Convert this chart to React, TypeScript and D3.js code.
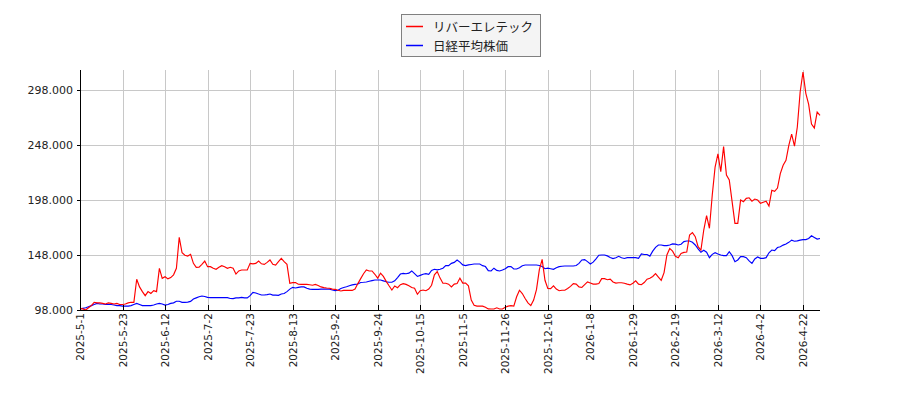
import React from 'react';
import * as d3 from 'd3';

const stockName = 'リバーエレテック';
const indexName = '日経平均株価';

const riverValues: number[] = [
  99.5, 99, 98, 100, 102, 105, 104.5, 104.5, 104, 103.5, 104.5, 104, 103.5, 104, 103, 103, 103.5, 104.5, 105, 105,
  126, 119, 114.7, 111, 114.7, 113, 115.6, 114.7, 135.9, 126.8, 128.3, 126.3, 127.5, 130, 135.9,
  164, 150, 147.8, 147, 148.6, 140.4, 136.8, 137, 139.5, 142.5, 137.4, 137.4, 135.9, 135, 136.8, 138.3, 137.4, 135.9,
  136.8, 135.9, 130.7, 133.5, 134.4, 134.4, 134.4, 140.4, 140, 140.4, 142.5, 140, 139.5, 141.3, 143.5, 139.5, 138.9,
  141.9, 145, 141.9, 139.5, 122.3, 122.9, 122.9, 121.4,
  121.3, 121.3, 121.3, 121, 120.5, 121.3, 120.3, 119, 118.3, 118, 117.8, 117, 116.8, 116, 115.3, 115.8, 115.8, 115.8,
  115.8, 117, 122, 126.5, 131, 134.4, 133.5, 133.5, 130.5, 127, 131.5, 128.5, 124, 120, 116.2, 119.8, 118.3, 121, 122,
  121.3, 120, 118.5, 117.8, 112.3, 115.5,
  116.2, 115.5, 117, 120.5, 130, 133, 127, 122.3, 122.3, 121.5, 119, 121.5, 122, 127, 122.5, 122.5, 120, 107, 102.3,
  101.5, 101.5, 101.5, 100.5, 99, 98.9, 98.9, 100, 98.9, 98.9, 100.5, 101.5, 102, 101.5, 110, 116, 113, 108.5, 104.5,
  102, 107, 116.5, 134.4, 144, 125, 117.7,
  117.5, 120, 117, 115.5, 116, 116, 117.5, 119.5, 122, 121.5, 119, 118.5, 121, 123.5, 122.5, 121.5, 121.5, 122, 126.5,
  126.5, 125.5, 126, 123.5, 122.5, 122.8, 122.8, 122.3, 121.5, 120.8, 122.3, 124.5, 121.5, 121, 123, 126, 126.8, 128.5,
  131, 128, 125, 132, 148, 154, 151.5, 146.9, 145.5, 149.5,
  150.4, 150.7, 166.2, 168.3, 164.7, 155.6, 152.5, 170.7, 183.8, 172.3, 202.5, 228, 240, 223.8, 246.5, 220.7, 216.2,
  196.5, 176.8, 176.8, 198, 196.5, 199.5, 200, 197, 198.9, 198, 195, 196, 197,
  192.5, 206.8, 205.9, 208.9, 222, 229.6, 234.1, 247.7, 258, 247, 264.4, 296.2, 314.4, 295, 285, 267, 263.5, 278, 275,
];

const nikkeiValues: number[] = [
  99, 99.5, 100, 101, 102, 103, 104, 103.5, 103.5, 103, 103, 103, 102.5, 102, 102, 101.5, 101.5, 101.5, 102, 103,
  104, 103, 102, 102, 102, 102, 102.5, 103.5, 104, 103.5, 102.5, 103, 104, 104.5, 106,
  106, 105, 105, 105.2, 105.8, 108, 109, 110, 110.7, 110.3, 109.5, 109.2, 109.2, 109.2, 109.2, 109.2, 109.2, 109.2,
  108.5, 108.3, 109, 109, 109.5, 109, 109, 111, 114, 113.5, 112.5, 111.6, 111.6, 112, 112.5, 111.5, 111.5, 111.3,
  112.5, 113, 114.7, 117, 118.6, 118, 118.6,
  119, 119, 117.7, 117, 116.8, 116.8, 116.8, 117, 117, 117, 117, 116.2, 115.6, 116, 117.5, 118.5, 119.1, 120, 120.8,
  121.3, 121.6, 123, 123.2, 123.5, 124.1, 124.7, 125.3, 125.3, 125.3, 124.5, 123.7, 123.2, 123.2, 124.5, 127.5, 130.7,
  131.3, 131, 131.5, 133.5, 131, 128.5, 129.5,
  130.5, 131, 130.5, 134, 135, 134.5, 135, 136, 138.3, 138.3, 140.4, 141.3, 143.5, 141.5, 139, 138.3, 139, 139.4,
  139.8, 139.8, 139.8, 138.3, 137.5, 133.8, 133.5, 136, 134, 133.5, 134.3, 135.5, 137.4, 137.4, 135.3, 135.3, 136.5,
  138.3, 138.9, 138.9, 138.9, 138.9, 138.9, 138.5, 137.5, 135.5, 136,
  135.5, 135, 136.5, 137.4, 137.8, 138, 138, 138, 138, 138.5, 140.4, 143.5, 143.8, 142, 139.8, 141.5, 144.5, 147.8,
  148, 148, 147.2, 145.8, 144.8, 145.5, 146.8, 145.5, 144.8, 145.6, 145.6, 145.6, 145.6, 145, 149, 148.5, 148.5, 147,
  151.5, 155, 157.1, 157.1, 156.5, 156.5, 157.1,
  158.1, 157.9, 157.1, 157.8, 160.2, 160.7, 160.7, 159.6, 157.1, 153.5, 150.5, 152.3, 150.5, 145.6, 148.6, 150.1,
  148.9, 148, 147.4, 147.4, 151, 147.4, 141.9, 143.5, 146.5, 146.5, 145.6, 142.6, 140.4, 144.4, 146.2, 145, 145, 145.6,
  150, 152.5, 152, 154.8, 155.5, 157, 158, 159.5, 161.5, 160.5, 160.8, 161.5, 162, 162, 163, 165.5, 164, 162.5, 163,
];

const xTickLabels = [
  '2025-5-1', '2025-5-23', '2025-6-12', '2025-7-2', '2025-7-23', '2025-8-13', '2025-9-2', '2025-9-24',
  '2025-10-15', '2025-11-5', '2025-11-26', '2025-12-16', '2026-1-8', '2026-1-29', '2026-2-19', '2026-3-12',
  '2026-4-2', '2026-4-22',
];
const xTickStep = 15;
const yTicks = [98, 148, 198, 248, 298];
const yDomain = [98, 316.2];

export default function App() {
  const W = 900;
  const H = 400;
  const left = 80;
  const right = 820;
  const top = 70;
  const bottom = 310;

  const x = d3.scaleLinear().domain([0, riverValues.length - 1]).range([left, right]);
  const y = d3.scaleLinear().domain(yDomain).range([bottom, top]);
  const line = d3
    .line<number>()
    .x((_, i) => x(i))
    .y((d) => y(d));

  const xTicks = xTickLabels.map((label, k) => ({ label, i: k * xTickStep }));
  const px = (v: number) => Math.round(v) + 0.5;
  const font = '"DejaVu Sans", sans-serif';
  const cjk = '"Noto Sans CJK JP", "DejaVu Sans", sans-serif';

  return (
    <svg
      width={W}
      height={H}
      viewBox={`0 0 ${W} ${H}`}
      style={{ position: 'absolute', left: 0, top: 0, background: '#fff' }}
    >
      <rect x={0} y={0} width={W} height={H} fill="#fff" />
      {/* grid */}
      <g stroke="#c8c8c8" strokeWidth={1} shapeRendering="crispEdges">
        {xTicks.map((t) => (
          <line key={'gx' + t.i} x1={px(x(t.i))} x2={px(x(t.i))} y1={top} y2={bottom} />
        ))}
        {yTicks.map((v) => (
          <line key={'gy' + v} x1={left} x2={right} y1={px(y(v))} y2={px(y(v))} />
        ))}
      </g>
      {/* series */}
      <path d={line(nikkeiValues) || ''} fill="none" stroke="#0000ff" strokeWidth={1.15} />
      <path d={line(riverValues) || ''} fill="none" stroke="#ff0000" strokeWidth={1.15} />
      {/* spines */}
      <g stroke="#000" strokeWidth={1} shapeRendering="crispEdges">
        <line x1={px(left)} x2={px(left)} y1={top} y2={px(bottom)} />
        <line x1={px(left)} x2={right} y1={px(bottom)} y2={px(bottom)} />
      </g>
      {/* y ticks */}
      {yTicks.map((v) => (
        <g key={'yt' + v}>
          <line
            x1={left - 3.5}
            x2={px(left)}
            y1={px(y(v))}
            y2={px(y(v))}
            stroke="#000"
            strokeWidth={1}
            shapeRendering="crispEdges"
          />
          <text
            x={left - 7}
            y={y(v)}
            textAnchor="end"
            dominantBaseline="central"
            fontFamily={font}
            fontSize={11}
            fill="#222"
          >
            {v.toFixed(3)}
          </text>
        </g>
      ))}
      {/* x ticks */}
      {xTicks.map((t) => (
        <g key={'xt' + t.i}>
          <line
            x1={px(x(t.i))}
            x2={px(x(t.i))}
            y1={bottom - 5}
            y2={bottom}
            stroke="#000"
            strokeWidth={1}
            shapeRendering="crispEdges"
          />
          <text
            transform={`translate(${x(t.i)},${bottom + 3}) rotate(-90)`}
            textAnchor="end"
            dominantBaseline="central"
            fontFamily={font}
            fontSize={10.5}
            fill="#222"
          >
            {t.label}
          </text>
        </g>
      ))}
      {/* legend */}
      <rect
        x={401.5}
        y={14.5}
        width={139}
        height={42}
        fill="#f4f4f4"
        stroke="#808080"
        strokeWidth={1}
        shapeRendering="crispEdges"
      />
      <line x1={406} x2={423} y1={26.5} y2={26.5} stroke="#ff0000" strokeWidth={1.5} />
      <line x1={406} x2={423} y1={45.5} y2={45.5} stroke="#0000ff" strokeWidth={1.5} />
      <text x={433} y={26.5} dominantBaseline="central" fontFamily={cjk} fontSize={12.5} fill="#222">
        {stockName}
      </text>
      <text x={433} y={45.5} dominantBaseline="central" fontFamily={cjk} fontSize={12.5} fill="#222">
        {indexName}
      </text>
    </svg>
  );
}
